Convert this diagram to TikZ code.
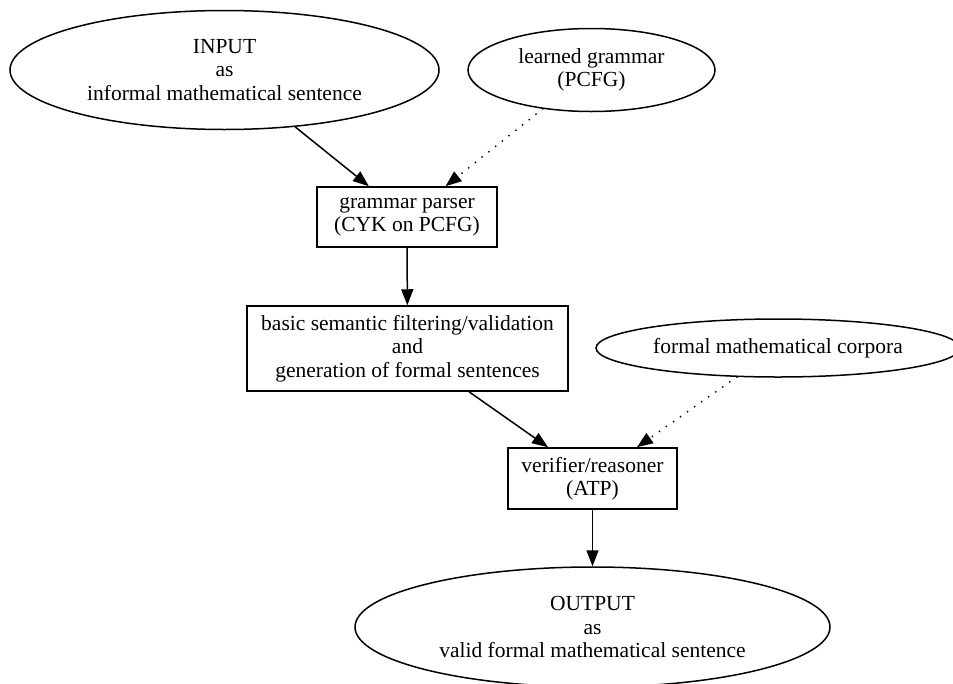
\documentclass[tikz,border=0pt]{standalone}
\usepackage{fontspec}
\setmainfont{Liberation Serif}
\usetikzlibrary{shapes.geometric,arrows.meta}

\begin{document}
\begin{tikzpicture}[x=1pt,y=-1pt,
		line width=1.5pt,
		every node/.style={font=\fontsize{21.5}{23.5}\selectfont,align=center,inner sep=0pt,draw},
		datanode/.style={ellipse},
		stepnode/.style={rectangle},
		flow/.style={-{Triangle[length=16pt,width=12pt]}},
		aux flow/.style={flow,line width=2pt,line cap=round,dash pattern=on 0pt off 8.6pt}]

		\useasboundingbox (0,0) rectangle (953,683);

		\node[datanode,minimum width=429pt,minimum height=119pt] (input)    at (224.5, 70)
			{INPUT\\as\\informal mathematical sentence};
		\node[datanode,minimum width=247pt,minimum height=83pt]  (grammar)  at (591.5, 70)
			{learned grammar\\(PCFG)};
		\node[stepnode,minimum width=180pt,minimum height=60pt]  (parser)   at (407,217)
			{grammar parser\\(CYK on PCFG)};
		\node[stepnode,minimum width=321pt,minimum height=85pt]  (filter)   at (407.5,348.5)
			{basic semantic filtering/validation\\and\\generation of formal sentences};
		\node[datanode,minimum width=364pt,minimum height=58pt]  (corpora)  at (778,348)
			{formal mathematical corpora};
		\node[stepnode,minimum width=169pt,minimum height=61pt]  (verifier) at (592.5,478.5)
			{verifier/reasoner\\(ATP)};
		\node[datanode,minimum width=475pt,minimum height=120pt] (output)   at (592.5,627)
			{OUTPUT\\as\\valid formal mathematical sentence};

		\draw[flow]     (input)    -- (parser);
		\draw[aux flow] (grammar)  -- (parser);
		\draw[flow]     (parser)   -- (filter);
		\draw[flow]     (filter)   -- (verifier);
		\draw[aux flow] (corpora)  -- (verifier);
		\draw[flow]     (verifier) -- (output);
	\end{tikzpicture}
\end{document}
